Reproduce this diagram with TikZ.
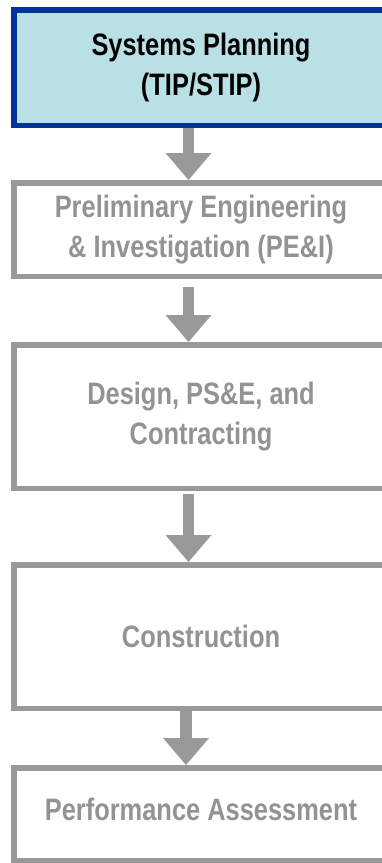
\documentclass[tikz,border=0pt]{standalone}
\usepackage{fontspec}
\newfontfamily\boxfont{Liberation Sans}[FakeStretch=0.82]
\usetikzlibrary{arrows.meta}
\definecolor{boxblue}{HTML}{003399}
\definecolor{boxfill}{HTML}{B9E0E4}
\definecolor{boxgray}{HTML}{999999}
\definecolor{textgray}{HTML}{939393}
\begin{document}
\begin{tikzpicture}[x=1pt,y=-1pt,
  stage/.style={draw=boxgray, line width=5.5pt, fill=white, minimum width=374.5pt,
    align=center, text=textgray, inner sep=0pt,
    font=\boxfont\bfseries\fontsize{31}{40}\selectfont},
  topstage/.style={stage, draw=boxblue, fill=boxfill, text=black},
  flow/.style={draw=boxgray, line width=11.5pt,
    -{Triangle[width=46pt,length=27pt,line width=0pt]}}]
\useasboundingbox (0,0) rectangle (382,863);
\clip (0,0) rectangle (382,863);
\node[topstage, minimum height=115.5pt] (b1) at (201,67.5) {Systems Planning\\(TIP/STIP)};
\node[stage, minimum height=93.5pt] (b2) at (201,229.5) {Preliminary Engineering\\\& Investigation (PE\&I)};
\node[stage, minimum height=143.5pt] (b3) at (201,416.5) {Design, PS\&E, and\\Contracting};
\node[stage, minimum height=143.5pt] (b4) at (201,636.5) {Construction};
\node[stage, minimum height=92.5pt, text depth=10pt] (b5) at (201,814) {Performance Assessment};
\draw[flow] ([xshift=-12.5pt]b1.south) -- ([xshift=-12.5pt]b2.north);
\draw[flow] ([xshift=-12.5pt,yshift=-8pt]b2.south) -- ([xshift=-12.5pt]b3.north);
\draw[flow] ([xshift=-12.5pt,yshift=-3pt]b3.south) -- ([xshift=-12.5pt]b4.north);
\draw[flow] ([xshift=-15pt]b4.south) -- ([xshift=-15pt]b5.north);
\end{tikzpicture}
\end{document}
